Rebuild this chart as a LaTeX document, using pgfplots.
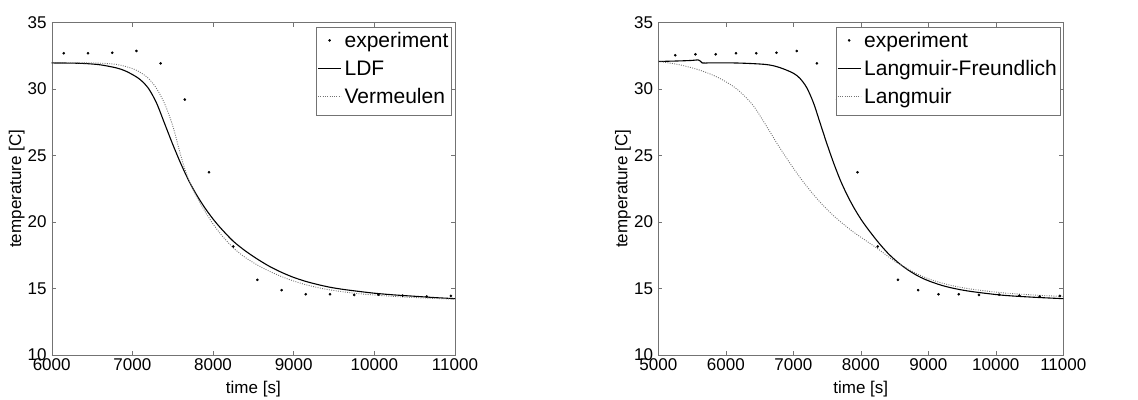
\documentclass[border=0pt]{standalone}
\usepackage{fontspec}
\setmainfont{Liberation Sans}
\usepackage{pgfplots}
\pgfplotsset{compat=1.18}
\pgfplotsset{
 myax/.style={
  scale only axis, width=403.3pt, height=332pt,
  ymin=10, ymax=35, ytick={10,15,...,35},
  scaled x ticks=false, scaled y ticks=false,
  axis line style={black!55}, every tick/.style={black!55, line cap=butt},
  major tick length=4pt, tick align=inside,
  ticklabel style={font=\fontsize{17}{20}\selectfont, inner sep=0pt},
  /pgf/number format/assume math mode=true,
  /pgf/number format/1000 sep={},
  xticklabel style={anchor=north, yshift=-3.7pt},
  yticklabel style={anchor=east, xshift=-5pt},
  label style={font=\fontsize{17}{20}\selectfont},
  xlabel style={at={(axis description cs:0.5,0)}, anchor=north, inner sep=0pt, yshift=-26pt},
  ylabel style={at={(axis description cs:-0.087,0.5)}, anchor=center, inner sep=0pt},
  xlabel={time [s]}, ylabel={temperature [C]},
  legend style={at={(1,1)}, anchor=north east, xshift=-3.3pt, yshift=-4pt,
    draw=black!55, fill=white, font=\fontsize{21}{25}\selectfont,
    inner xsep=1pt, inner ysep=2pt, row sep=0pt, column sep=1pt,
    nodes={inner xsep=2pt, inner ysep=4pt, text height=15pt, text depth=5pt}},
  legend cell align=left,
  legend image code/.code={\draw[#1] (2pt,2.5pt) -- (25pt,2.5pt);},
 },
 expt/.style={only marks, mark=*, mark size=1.1pt, black,
   legend image code/.code={\fill[black] (13.5pt,2.5pt) circle (1.1pt);}},
 solidc/.style={black, line width=1.1pt, smooth, no marks},
 dotc/.style={black!55, line width=0.9pt, dash pattern=on 0.9pt off 1.4pt, smooth, no marks},
}
\begin{document}
\begin{tikzpicture}
\path[use as bounding box] (0,0) rectangle (1138pt,399pt);
\begin{axis}[myax, at={(51.7pt,44.3pt)}, anchor=south west,
  xmin=6000, xmax=11000, xtick={6000,7000,...,11000}]
\addplot[expt] coordinates {
(6150,32.70) (6450,32.70) (6750,32.74) (7050,32.87) (7350,31.94) (7650,29.21)
(7950,23.74) (8250,18.15) (8550,15.64) (8850,14.86) (9150,14.55) (9450,14.55)
(9750,14.50) (10050,14.52) (10350,14.45) (10650,14.38) (10950,14.43)};
\addlegendentry{experiment}
\addplot[solidc] coordinates {
(6000,31.97) (6200,31.96) (6400,31.93) (6600,31.83) (6800,31.60) (6900,31.40)
(7000,31.10) (7100,30.70) (7200,30.05) (7300,28.95) (7400,27.40) (7500,25.85)
(7600,24.40) (7700,23.10) (7800,22.00) (7900,21.05) (8000,20.22) (8100,19.50)
(8250,18.55) (8400,17.82) (8550,17.20) (8700,16.65) (8850,16.20) (9000,15.82)
(9150,15.52) (9300,15.28) (9450,15.08) (9600,14.93) (9750,14.81) (10000,14.63)
(10250,14.50) (10500,14.40) (10750,14.30) (11000,14.22)};
\addlegendentry{LDF}
\addplot[dotc] coordinates {
(6000,31.97) (6500,31.97) (6800,31.86) (7000,31.55) (7100,31.25) (7200,30.80)
(7300,30.05) (7400,28.90) (7500,27.25) (7600,25.00) (7650,24.00) (7700,23.15)
(7750,22.45) (7800,21.85) (7900,20.80) (8000,19.85) (8100,19.05) (8250,18.05)
(8400,17.32) (8550,16.75) (8700,16.28) (8850,15.88) (9000,15.55) (9150,15.27)
(9300,15.05) (9450,14.88) (9750,14.63) (10050,14.47) (10350,14.35) (10700,14.25)
(11000,14.18)};
\addlegendentry{Vermeulen}
\end{axis}
\begin{axis}[myax, at={(658.3pt,44.3pt)}, anchor=south west, width=405pt,
  xmin=5000, xmax=11000, xtick={5000,6000,...,11000}]
\addplot[expt] coordinates {
(5250,32.55) (5550,32.62) (5850,32.62) (6150,32.70) (6450,32.70) (6750,32.74)
(7050,32.87) (7350,31.94) (7650,29.21) (7950,23.74) (8250,18.15) (8550,15.64)
(8850,14.86) (9150,14.55) (9450,14.55) (9750,14.50) (10050,14.52) (10350,14.45)
(10650,14.38) (10950,14.43)};
\addlegendentry{experiment}
\addplot[solidc] coordinates {
(5000,32.08) (5300,32.12) (5500,32.16) (5590,32.20) (5620,32.12) (5650,31.97)
(5700,31.96) (5800,31.98) (6200,31.96) (6600,31.85) (6800,31.62) (7000,31.20)
(7100,30.80) (7200,30.10) (7300,28.95) (7400,27.40) (7500,25.85) (7600,24.40)
(7700,23.10) (7800,22.00) (7900,21.05) (8000,20.22) (8100,19.50) (8250,18.52)
(8400,17.65) (8550,16.95) (8700,16.38) (8850,15.92) (9000,15.57) (9200,15.22)
(9400,14.97) (9650,14.75) (10100,14.48) (10550,14.33) (11000,14.22)};
\addlegendentry{Langmuir-Freundlich}
\addplot[dotc] coordinates {
(5000,32.08) (5300,31.85) (5600,31.45) (5850,30.96) (6050,30.40) (6200,29.85)
(6400,28.80) (6580,27.40) (6760,25.90) (6940,24.50) (7120,23.20) (7300,22.05)
(7450,21.20) (7600,20.45) (7750,19.80) (7900,19.20) (8050,18.68) (8250,17.98)
(8500,17.05) (8700,16.45) (8850,16.05) (9000,15.72) (9200,15.40) (9400,15.15)
(9650,14.93) (10100,14.66) (10550,14.50) (11000,14.38)};
\addlegendentry{Langmuir}
\end{axis}
\end{tikzpicture}
\end{document}
